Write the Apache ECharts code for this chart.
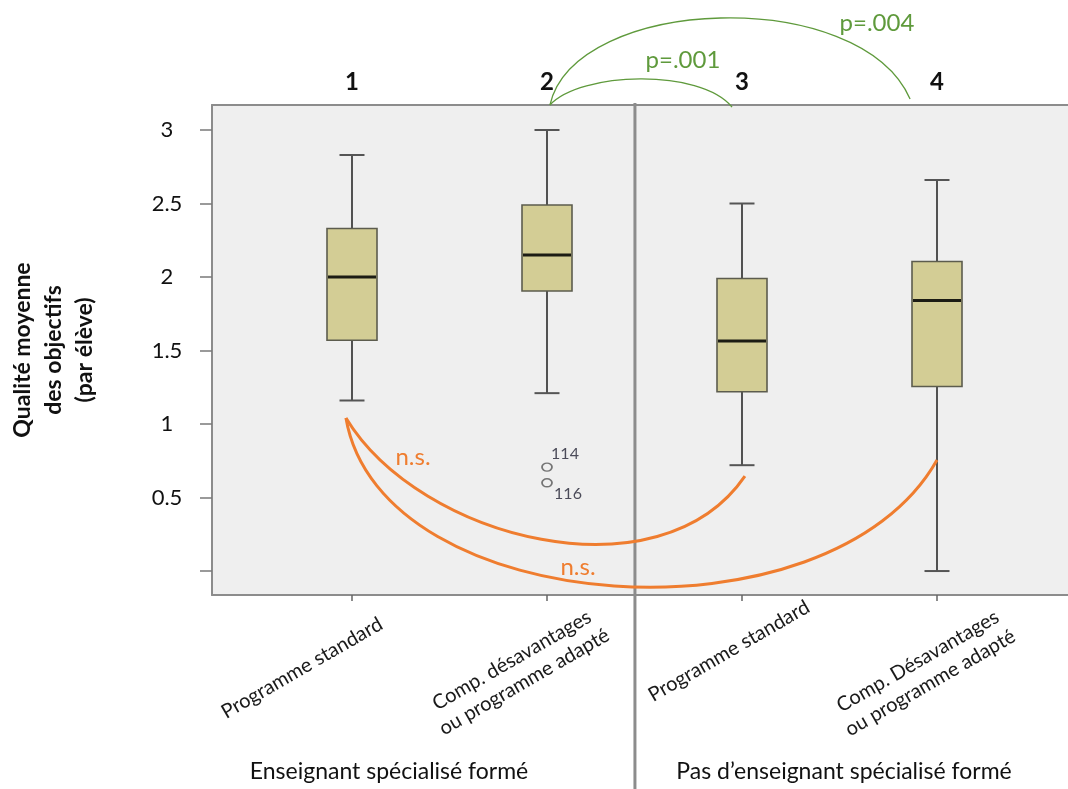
<!DOCTYPE html>
<html>
<head>
<meta charset="utf-8">
<title>Qualité moyenne des objectifs</title>
<script src="https://cdn.jsdelivr.net/npm/echarts@6/dist/echarts.min.js"></script>
<style>
  html, body { margin: 0; padding: 0; background: #ffffff; }
  #chart { width: 1068px; height: 789px; }
</style>
</head>
<body>
<div id="chart"></div>
<script>
// ---- Data ---------------------------------------------------------------
const groupNumbers = ['1', '2', '3', '4'];
const programmeLabels = [
  'Programme standard',
  'Comp. désavantages\nou programme adapté',
  'Programme standard',
  'Comp. Désavantages\nou programme adapté'
];
const teacherGroups = ['Enseignant spécialisé formé', 'Pas d\u2019enseignant spécialisé formé'];

// Box statistics per group (lower whisker, Q1, median, Q3, upper whisker)
const whiskerLow  = [1.16, 1.21, 0.72, 0.00];
const quartile1   = [1.57, 1.905, 1.22, 1.255];
const medians     = [2.00, 2.15, 1.565, 1.84];
const quartile3   = [2.33, 2.49, 1.99, 2.105];
const whiskerHigh = [2.83, 3.00, 2.50, 2.66];

// Outlying cases (group number, value, case id)
const outlierGroup  = [2, 2];
const outlierValues = [0.707, 0.60];
const outlierIds    = ['114', '116'];

// Value axis ticks
const yTicks      = [0, 0.5, 1, 1.5, 2, 2.5, 3];
const yTickLabels = [0.5, 1, 1.5, 2, 2.5, 3];
const yTitle = 'Qualité moyenne\ndes objectifs\n(par élève)';

// Pairwise comparisons
const comparisonText = ['n.s.', 'n.s.', 'p=.001', 'p=.004'];

// ---- Layout & style -----------------------------------------------------
const Y_MIN = -0.163, Y_MAX = 3.17;
const X_MIN = 0.5, X_MAX = 4.5;
const FONT = 'Lato, "Open Sans", sans-serif';
const ORANGE = '#ef7d2f';
const GREEN = '#5f9a3c';
const AXIS_GREY = '#8c8c8c';
const BOX_W = 50, CAP_W = 25;

// Comparison arcs: cubic Bézier control points in data space
const arcGeometry = [
  [0.969, 1.041, 1.349, 0.211, 2.579, -0.197, 3.015, 0.646],
  [0.969, 1.041, 1.144, -0.333, 3.451, -0.537, 4.000, 0.755],
  [2.015, 3.170, 2.169, 3.395, 2.785, 3.422, 2.949, 3.156],
  [2.015, 3.170, 2.144, 3.918, 3.605, 3.986, 3.862, 3.211]
];
const arcColors = [ORANGE, ORANGE, GREEN, GREEN];
const arcWidths = [3, 3, 1.3, 1.3];
const comparisonAnchors = [[1.313, 0.776], [2.159, 0.027], [2.697, 3.476], [3.692, 3.728]];
const comparisonSizes = [24, 24, 24, 24];

// Divider between teacher groups
const dividerX = 2.451, dividerTop = 3.184, dividerBottom = -1.483;

// Rotated programme labels: pixel offset from each category tick
const programmeOffsets = [[-50, 73], [-29, 76], [-13, 56], [-13, 77]];
const groupLabelPos = [[389, 772], [844, 772]];

// Outlier label offsets
const outlierLabelOffsets = [[18, -13], [21, 11]];

// ---- Chart --------------------------------------------------------------
const chart = echarts.init(document.getElementById('chart'), null, { renderer: 'canvas' });

const boxRows = groupNumbers.map((g, i) =>
  [i + 1, whiskerLow[i], quartile1[i], medians[i], quartile3[i], whiskerHigh[i]]);

function renderBox(params, api) {
  const x = api.value(0);
  const lo = api.coord([x, api.value(1)]);
  const q1 = api.coord([x, api.value(2)]);
  const md = api.coord([x, api.value(3)]);
  const q3 = api.coord([x, api.value(4)]);
  const hi = api.coord([x, api.value(5)]);
  const cx = md[0];
  const seg = (x1, y1, x2, y2, stroke, w) =>
    ({ type: 'line', shape: { x1, y1, x2, y2 }, style: { stroke, lineWidth: w } });
  return {
    type: 'group',
    children: [
      seg(cx, hi[1], cx, q3[1], '#2a2a2a', 1.6),
      seg(cx, q1[1], cx, lo[1], '#2a2a2a', 1.6),
      seg(cx - CAP_W / 2, hi[1], cx + CAP_W / 2, hi[1], '#555555', 2),
      seg(cx - CAP_W / 2, lo[1], cx + CAP_W / 2, lo[1], '#555555', 2),
      {
        type: 'rect',
        shape: { x: cx - BOX_W / 2, y: q3[1], width: BOX_W, height: q1[1] - q3[1] },
        style: { fill: '#d3cd95', stroke: '#5c5c4e', lineWidth: 1.6 }
      },
      seg(cx - BOX_W / 2 + 1, md[1], cx + BOX_W / 2 - 1, md[1], '#1c1c14', 3)
    ]
  };
}

function renderArc(params, api) {
  const i = params.dataIndex;
  const g = arcGeometry[i];
  const p0 = api.coord([g[0], g[1]]);
  const p1 = api.coord([g[2], g[3]]);
  const p2 = api.coord([g[4], g[5]]);
  const p3 = api.coord([g[6], g[7]]);
  return {
    type: 'bezierCurve',
    shape: { x1: p0[0], y1: p0[1], cpx1: p1[0], cpy1: p1[1], cpx2: p2[0], cpy2: p2[1], x2: p3[0], y2: p3[1] },
    style: { stroke: arcColors[i], lineWidth: arcWidths[i], fill: null }
  };
}

function renderComparisonText(params, api) {
  const i = params.dataIndex;
  const p = api.coord(comparisonAnchors[i]);
  return {
    type: 'text',
    x: p[0], y: p[1],
    style: {
      text: comparisonText[i],
      fill: arcColors[i],
      font: comparisonSizes[i] + 'px ' + FONT,
      align: 'center', verticalAlign: 'middle'
    }
  };
}

function renderProgrammeLabel(params, api) {
  const i = params.dataIndex;
  const p = api.coord([i + 1, Y_MIN]);
  const off = programmeOffsets[i];
  return {
    type: 'text',
    x: p[0] + off[0], y: p[1] + off[1],
    rotation: Math.PI / 6,
    style: {
      text: programmeLabels[i],
      fill: '#1a1a1a',
      font: '20px ' + FONT,
      lineHeight: 25,
      align: 'center', verticalAlign: 'middle'
    }
  };
}

function renderDivider(params, api) {
  const a = api.coord([dividerX, dividerTop]);
  const b = api.coord([dividerX, dividerBottom]);
  return {
    type: 'line',
    shape: { x1: a[0], y1: a[1], x2: b[0], y2: b[1] },
    style: { stroke: AXIS_GREY, lineWidth: 3 }
  };
}

const option = {
  animation: false,
  backgroundColor: '#ffffff',
  textStyle: { fontFamily: FONT },
  grid: [
    { left: 212, right: 0, top: 105, bottom: 194, show: true, backgroundColor: '#efefef',
      borderWidth: 0, containLabel: false, outerBoundsMode: 'none' },
    { left: 254.5, width: 780, top: 105, bottom: 194, show: false,
      containLabel: false, outerBoundsMode: 'none' }
  ],
  xAxis: [
    { type: 'value', gridIndex: 0, min: 0, max: 1, position: 'bottom',
      axisLine: { show: true, onZero: false, lineStyle: { color: AXIS_GREY, width: 2 } },
      axisTick: { show: false }, axisLabel: { show: false }, splitLine: { show: false } },
    { type: 'value', gridIndex: 0, min: 0, max: 1, position: 'top',
      axisLine: { show: true, onZero: false, lineStyle: { color: AXIS_GREY, width: 2 } },
      axisTick: { show: false }, axisLabel: { show: false }, splitLine: { show: false } },
    { type: 'category', gridIndex: 1, data: programmeLabels, position: 'bottom', boundaryGap: true,
      axisLine: { show: false, onZero: false },
      axisTick: { show: true, alignWithLabel: true, length: 6, lineStyle: { color: '#666666', width: 1.5 } },
      axisLabel: { show: false }, splitLine: { show: false } },
    { type: 'category', gridIndex: 1, data: groupNumbers, position: 'top', boundaryGap: true,
      axisLine: { show: false, onZero: false }, axisTick: { show: false },
      axisLabel: { show: true, margin: 23, verticalAlign: 'middle', color: '#111111',
        fontFamily: FONT, fontWeight: 'bold', fontSize: 24 },
      splitLine: { show: false } },
    { type: 'value', gridIndex: 1, min: X_MIN, max: X_MAX, show: false, splitLine: { show: false } }
  ],
  yAxis: [
    { type: 'value', gridIndex: 0, min: Y_MIN, max: Y_MAX,
      axisLine: { show: true, onZero: false, lineStyle: { color: AXIS_GREY, width: 2 } },
      axisTick: { show: true, length: 12, customValues: yTicks, lineStyle: { color: '#7a7a7a', width: 1.5 } },
      axisLabel: { show: true, customValues: yTickLabels, formatter: v => String(v),
        align: 'center', margin: 45, color: '#111111', fontFamily: FONT, fontSize: 22 },
      splitLine: { show: false },
      name: yTitle, nameLocation: 'middle', nameGap: 112, nameRotate: 90,
      nameTextStyle: { fontFamily: FONT, fontWeight: 'bold', fontSize: 23, lineHeight: 31,
        color: '#111111', align: 'center' } },
    { type: 'value', gridIndex: 1, min: Y_MIN, max: Y_MAX, show: false, splitLine: { show: false } }
  ],
  series: [
    { name: 'boxes', type: 'custom', xAxisIndex: 4, yAxisIndex: 1, z: 3,
      data: boxRows, encode: { x: 0, y: [1, 2, 3, 4, 5] }, renderItem: renderBox, silent: true },
    { name: 'outliers', type: 'scatter', xAxisIndex: 4, yAxisIndex: 1, z: 4,
      symbol: 'circle', symbolSize: [10, 8],
      itemStyle: { color: '#efefef', borderColor: '#555555', borderWidth: 1.6 },
      data: outlierValues.map((v, i) => ({
        value: [outlierGroup[i], v],
        label: { show: true, formatter: outlierIds[i], position: 'inside',
          offset: outlierLabelOffsets[i], color: '#222233', fontFamily: FONT, fontSize: 16 }
      })),
      silent: true },
    { name: 'divider', type: 'custom', xAxisIndex: 4, yAxisIndex: 1, z: 5, clip: false,
      data: [[dividerX]], renderItem: renderDivider, silent: true },
    { name: 'comparisons', type: 'custom', xAxisIndex: 4, yAxisIndex: 1, z: 6, clip: false,
      data: arcGeometry.map((g, i) => [i]), renderItem: renderArc, silent: true },
    { name: 'comparison labels', type: 'custom', xAxisIndex: 4, yAxisIndex: 1, z: 7, clip: false,
      data: comparisonText.map((t, i) => [i]), renderItem: renderComparisonText, silent: true },
    { name: 'programmes', type: 'custom', xAxisIndex: 4, yAxisIndex: 1, z: 7, clip: false,
      data: programmeLabels.map((t, i) => [i + 1]), renderItem: renderProgrammeLabel, silent: true }
  ],
  graphic: teacherGroups.map((t, i) => ({
    type: 'text', x: groupLabelPos[i][0], y: groupLabelPos[i][1], silent: true,
    style: { text: t, fill: '#111111', font: '23px ' + FONT, align: 'center', verticalAlign: 'middle' }
  }))
};

chart.setOption(option);
</script>
</body>
</html>
